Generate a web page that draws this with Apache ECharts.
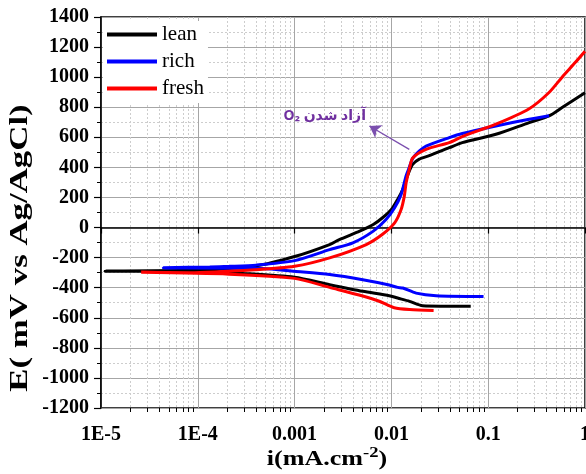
<!DOCTYPE html>
<html><head><meta charset="utf-8">
<script src="https://cdn.jsdelivr.net/npm/echarts@6/dist/echarts.min.js"></script>
<style>html,body{margin:0;padding:0;background:#fff}#c{width:586px;height:474px}</style>
</head><body><div id="c"></div>
<script>
// ---- data ----
const xTickLabels = ['1E-5', '1E-4', '0.001', '0.01', '0.1', '1'];
const seriesNames = ['lean', 'rich', 'fresh'];

const leanCurrent = [0.066, 0.021, 0.0154, 0.0116, 0.0095, 0.00506, 0.0023, 0.001, 0.00029, 0.00011, 0.000011,
  0.000105, 0.0004, 0.001, 0.0023, 0.0029, 0.0047, 0.0065, 0.0081, 0.01, 0.0116, 0.0131, 0.0142, 0.0153, 0.0166, 0.0194, 0.0246, 0.0396,
  0.054, 0.12, 0.265, 0.425, 0.58, 1.0];
const leanPotential = [-524, -520, -491, -469, -453, -424, -380, -331, -305, -292, -290,
  -283, -255, -193, -113, -80, -24, 20, 65, 120, 187, 253, 320, 375, 420, 455, 478, 531,
  565, 620, 698, 742, 798, 897];

const richCurrent = [0.0895, 0.029, 0.018, 0.0131, 0.0116, 0.0095, 0.00506, 0.0023, 0.001, 0.00047, 0.000044,
  0.000133, 0.00021, 0.0004, 0.001, 0.0023, 0.004, 0.0065, 0.0088, 0.0108, 0.0126, 0.0142, 0.0153, 0.0166, 0.0195, 0.0228, 0.0396,
  0.054, 0.12, 0.265, 0.426];
const richPotential = [-458, -453, -436, -402, -398, -382, -347, -313, -291, -272, -268,
  -262, -258, -250, -220, -147, -102, -24, 53, 131, 220, 345, 400, 460, 510, 542, 598,
  625, 675, 720, 744];

const freshCurrent = [0.0273, 0.0154, 0.0107, 0.0075, 0.00506, 0.0023, 0.001, 0.00021, 0.000026,
  0.000083, 0.0004, 0.001, 0.0023, 0.0055, 0.0081, 0.0108, 0.0126, 0.0136, 0.0142, 0.0153, 0.0166, 0.0228,
  0.0396, 0.054, 0.12, 0.265, 0.425, 0.58, 0.8, 1.0];
const freshPotential = [-551, -545, -533, -490, -455, -398, -338, -310, -298,
  -300, -280, -258, -202, -113, -45, 31, 120, 209, 298, 387, 462, 520,
  565, 605, 687, 790, 898, 1000, 1100, 1172];

const minorMultipliers = [2, 3, 4, 5, 6, 7, 8, 9];
const decadeStarts = [1e-5, 1e-4, 1e-3, 1e-2, 1e-1];

const xTitle = '{n|i(mA.cm}{s|-2}{n|)}';
const yTitle = 'E( mV vs Ag/AgCl)';
const annotationText = 'O₂ آزاد شدن';
const arrowFrom = [0.0153, 520];
const arrowTo = [0.00593, 675];
const annotationAt = [0.00205, 740];

// ---- chart ----
const FONT = '"Liberation Serif", "Times New Roman", serif';
const zip = (a, b) => a.map((v, i) => [v, b[i]]);
const minorX = [];
decadeStarts.forEach(d => minorMultipliers.forEach(m => minorX.push([d * m, 0])));

function renderMinor(params, api) {
  const v = api.value(0);
  const t = api.coord([v, 1400]);
  const b = api.coord([v, -1200]);
  const x = Math.round(t[0]) + 0.5;
  return {
    type: 'group', children: [
      { type: 'line', shape: { x1: x, y1: t[1], x2: x, y2: b[1] }, style: { stroke: '#cdcdcd', lineWidth: 1, lineDash: [2, 2] } },
      { type: 'line', shape: { x1: x, y1: b[1], x2: x, y2: b[1] + 4 }, style: { stroke: '#000', lineWidth: 1 } }
    ]
  };
}

const chart = echarts.init(document.getElementById('c'), null, { renderer: 'canvas' });
const lineCommon = { type: 'line', showSymbol: false, symbol: 'none', smooth: 0.25, animation: false, z: 3 };

chart.setOption({
  animation: false,
  backgroundColor: '#fff',
  grid: { left: 101, right: 1, top: 17, bottom: 66, containLabel: false, outerBoundsMode: 'none', show: true, borderColor: '#000', borderWidth: 1.5, backgroundColor: 'transparent' },
  legend: {
    data: seriesNames,
    orient: 'vertical', left: 103, top: 21,
    padding: [3, 4, 4, 4], itemGap: 6,
    itemWidth: 50, itemHeight: 4, icon: 'rect',
    backgroundColor: '#fff',
    textStyle: { fontFamily: FONT, fontSize: 21, color: '#000', lineHeight: 21, padding: [0, 0, 0, 0] },
    itemStyle: { borderWidth: 0 }
  },
  graphic: [
    {
      type: 'text', silent: true,
      x: 327, y: 458, scaleX: 1.24, scaleY: 1,
      style: {
        text: xTitle, align: 'center', verticalAlign: 'middle',
        rich: {
          n: { fontFamily: FONT, fontSize: 21, fontWeight: 'bold', fill: '#000', verticalAlign: 'bottom' },
          s: { fontFamily: FONT, fontSize: 15, fontWeight: 'bold', fill: '#000', verticalAlign: 'top', padding: [0, 0, 9, 0] }
        }
      }
    },
    {
      type: 'text', silent: true,
      x: 20, y: 248, rotation: Math.PI / 2, scaleX: 1.34, scaleY: 1,
      style: { text: yTitle, align: 'center', verticalAlign: 'middle', fontFamily: FONT, fontSize: 26, fontWeight: 'bold', fill: '#000' }
    }
  ],
  xAxis: {
    type: 'log', logBase: 10, min: 1e-5, max: 1,
    axisLine: { show: true, lineStyle: { color: '#000', width: 1.5 } },
    axisTick: { show: true, length: 6, lineStyle: { color: '#000', width: 1.2 } },
    minorTick: { show: false },
    axisLabel: {
      fontFamily: FONT, fontSize: 20, fontWeight: 'bold', color: '#000', margin: 17,
      showMaxLabel: true, showMinLabel: true, hideOverlap: false,
      formatter: v => xTickLabels[Math.round(Math.log10(v)) + 5]
    },
    splitLine: { show: true, lineStyle: { color: '#a6a6a6', width: 1 } }
  },
  yAxis: {
    type: 'value', min: -1200, max: 1400, interval: 200,
    axisLine: { show: true, lineStyle: { color: '#000', width: 1.5 } },
    axisTick: { show: true, length: 7, lineStyle: { color: '#000', width: 1.2 } },
    minorTick: { show: true, splitNumber: 2, length: 4, lineStyle: { color: '#000', width: 1 } },
    axisLabel: { fontFamily: FONT, fontSize: 20, fontWeight: 'bold', color: '#000', margin: 12, formatter: v => String(v) },
    splitLine: { show: true, lineStyle: { color: '#a6a6a6', width: 1 } },
    minorSplitLine: { show: true, lineStyle: { color: '#cdcdcd', width: 1, type: [2, 2] } }
  },
  series: [
    { type: 'custom', name: 'minor', data: minorX, renderItem: renderMinor, silent: true, z: 1, encode: { x: 0, y: 1 } },
    Object.assign({}, lineCommon, { name: 'lean', data: zip(leanCurrent, leanPotential), itemStyle: { color: '#000' }, lineStyle: { color: '#000', width: 3 } }),
    Object.assign({}, lineCommon, { name: 'rich', data: zip(richCurrent, richPotential), itemStyle: { color: '#0000ff' }, lineStyle: { color: '#0000ff', width: 3 } }),
    Object.assign({}, lineCommon, {
      name: 'fresh', data: zip(freshCurrent, freshPotential), itemStyle: { color: '#ff0000' }, lineStyle: { color: '#ff0000', width: 3 },
      markLine: {
        silent: true, animation: false,
        symbol: ['none', 'arrow'], symbolSize: 11,
        lineStyle: { color: '#7b4fae', width: 1.3, type: 'solid' },
        label: { show: false },
        data: [[{ coord: arrowFrom }, { coord: arrowTo }]]
      },
      markPoint: {
        silent: true, animation: false,
        data: [{
          coord: annotationAt, symbol: 'circle', symbolSize: 1, itemStyle: { color: 'rgba(0,0,0,0)' },
          label: { show: true, position: 'inside', formatter: annotationText, color: '#7030a0', fontWeight: 'bold', fontSize: 14, fontFamily: '"Noto Sans", "DejaVu Sans", sans-serif' }
        }]
      }
    })
  ]
});
</script></body></html>
